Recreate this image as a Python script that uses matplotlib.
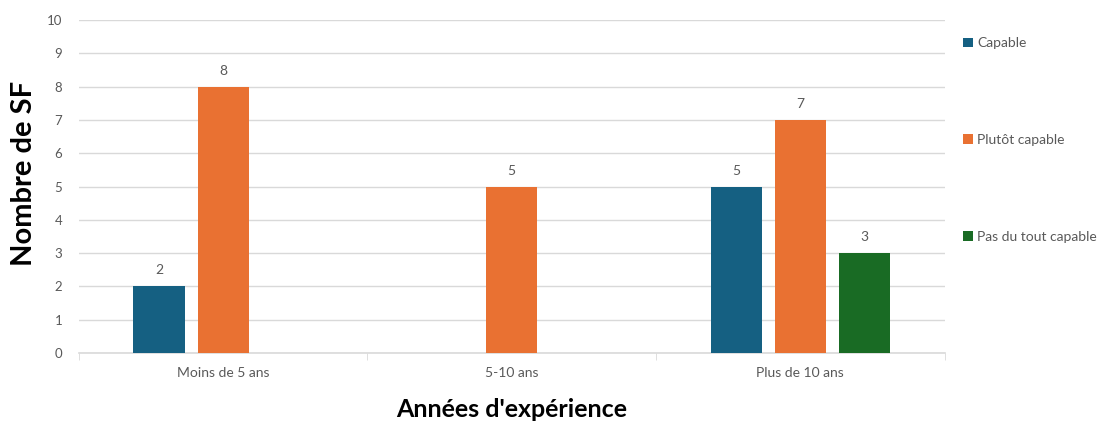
import matplotlib.pyplot as plt
import numpy as np

categories = ['Moins de 5 ans', '5-10 ans', 'Plus de 10 ans']
series_names = ['Capable', 'Plutôt capable', 'Pas du tout capable']
capable = [2, 0, 5]
plutot_capable = [8, 5, 7]
pas_du_tout = [0, 0, 3]

colors = ['#156082', '#E97132', '#196B24']
text_gray = '#595959'

plt.rcParams['font.family'] = ['Lato', 'DejaVu Sans']

fig = plt.figure(figsize=(11.1, 4.21), dpi=100)
ax = fig.add_axes([0.071, 0.162, 0.78, 0.79])

x = np.arange(len(categories))
width = 0.177
offset = 0.222
all_series = [capable, plutot_capable, pas_du_tout]

for i, (vals, name) in enumerate(zip(all_series, series_names)):
    pos = x + (i - 1) * offset
    bars = ax.bar(pos, vals, width, color=colors[i], label=name, zorder=3)
    for b, v in zip(bars, vals):
        if v > 0:
            ax.text(b.get_x() + b.get_width() / 2, v + 0.3, str(v),
                    ha='center', va='bottom', fontsize=10, color=text_gray)

ax.set_xlim(-0.5, 2.5)
ax.set_ylim(0, 10)
ax.set_yticks(range(0, 11))
ax.tick_params(axis='y', length=0, labelsize=9.5, colors=text_gray, pad=12)
ax.grid(axis='y', color='#D9D9D9', linewidth=1, zorder=0)

# category labels at centres, tick marks at boundaries
ax.set_xticks(x)
ax.set_xticklabels(categories)
ax.tick_params(axis='x', length=0, labelsize=10, colors=text_gray, pad=10)
ax.set_xticks([-0.5, 0.5, 1.5, 2.5], minor=True)
ax.tick_params(axis='x', which='minor', length=5, color='#D9D9D9')

for s in ['top', 'right', 'left']:
    ax.spines[s].set_visible(False)
ax.spines['bottom'].set_color('#D9D9D9')
ax.spines['bottom'].set_linewidth(1.2)

ax.set_ylabel('Nombre de SF', fontsize=21, fontweight='bold', color='black')
ax.yaxis.set_label_coords(-0.048, 0.54)
ax.set_xlabel("Années d'expérience", fontsize=18, fontweight='bold', color='black')
ax.xaxis.set_label_coords(0.5, -0.135)

leg = ax.legend(loc='upper left', bbox_to_anchor=(1.015, 0.965), frameon=False,
                fontsize=10, labelspacing=6.1, handlelength=0.7, handleheight=0.7,
                handletextpad=0.3, borderaxespad=0)
for t in leg.get_texts():
    t.set_color(text_gray)

fig.savefig('out.png', dpi=100)
